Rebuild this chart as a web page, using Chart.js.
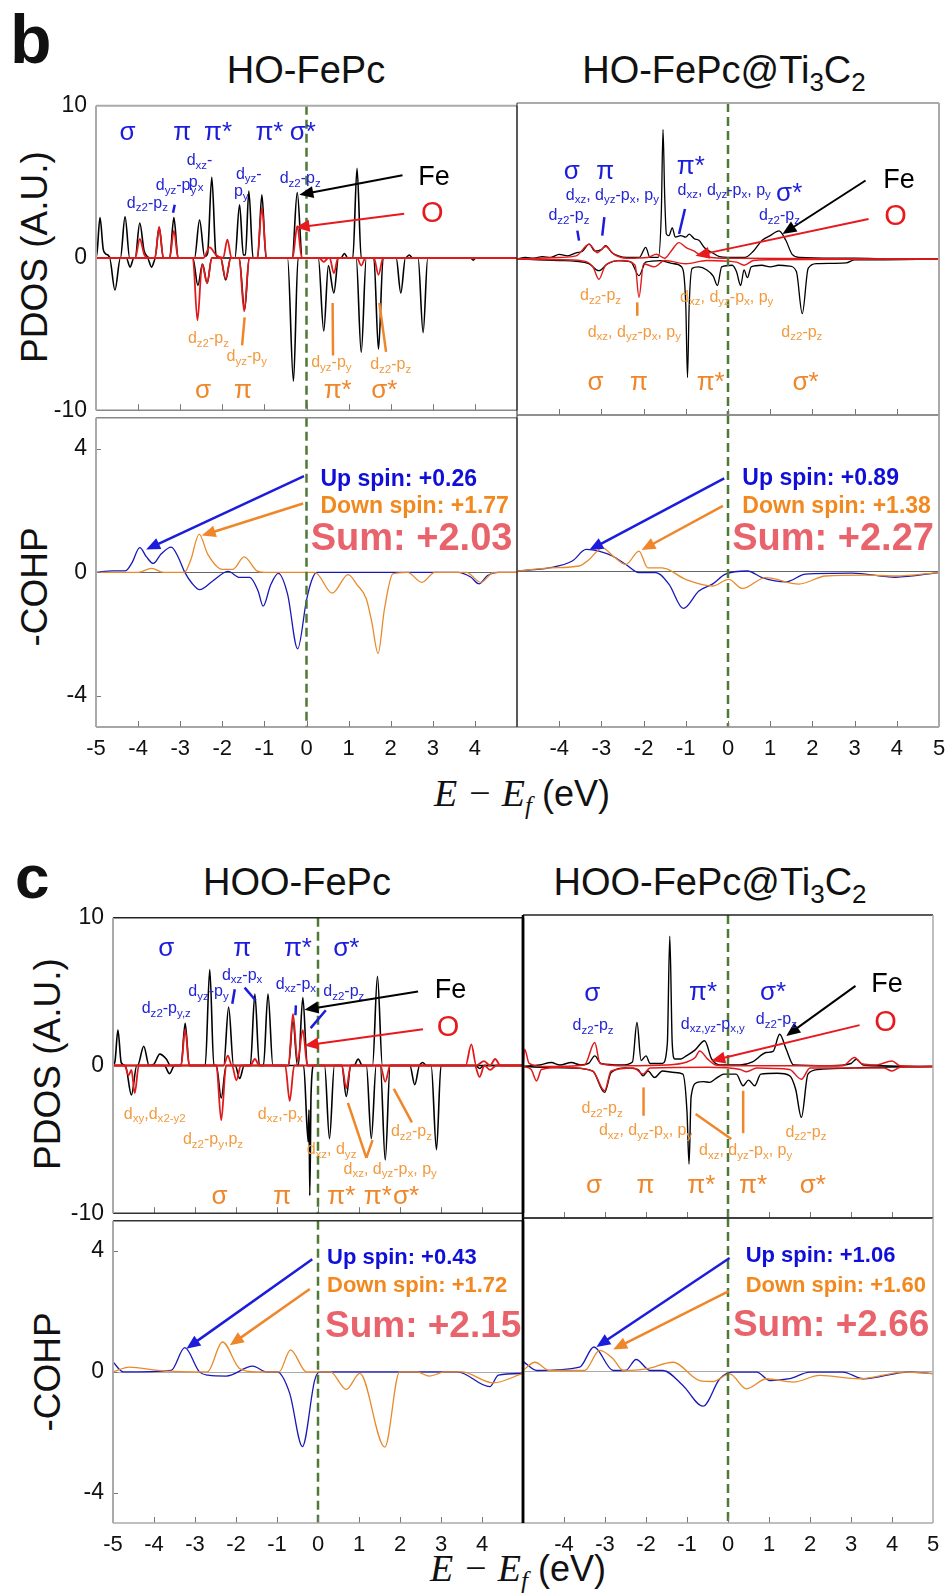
<!DOCTYPE html>
<html>
<head>
<meta charset="utf-8">
<script src="https://cdn.jsdelivr.net/npm/chart.js@4.4.0/dist/chart.umd.min.js"></script>
<style>
  body { margin: 0; background: #fff; width: 949px; height: 1593px; position: relative; overflow: hidden;
         font-family: "Liberation Sans", Arial, sans-serif; }
  .box { position: absolute; }
  .t { position: absolute; white-space: nowrap; line-height: 1; color: #111; }
  .rot { transform: translate(-50%, -50%) rotate(-90deg); }
  .mid { transform: translateX(-50%); }
  .ser { font-family: "Liberation Serif", "DejaVu Serif", serif; font-style: italic; }
  .lo { position: relative; top: 8px; font-size: 26px; }
</style>
</head>
<body>

<div class="t" style="left:10px;top:5px;font-size:68px;font-weight:bold">b</div>
<div class="t mid" style="left:306px;top:51px;font-size:38px">HO-FePc</div>
<div class="t mid" style="left:724px;top:51px;font-size:38px">HO-FePc@Ti<span class="lo">3</span>C<span class="lo">2</span></div>
<div class="t rot" style="left:34px;top:257px;font-size:37px">PDOS (A.U.)</div>
<div class="t rot" style="left:34px;top:587px;font-size:37px">-COHP</div>
<div class="t mid" style="left:522px;top:774px;font-size:36px"><span class="ser" style="font-size:38px">E − E<span style="position:relative;top:8px;font-size:25px">f</span></span> (eV)</div>

<div class="t" style="left:15px;top:846px;font-size:62px;font-weight:bold">c</div>
<div class="t mid" style="left:297px;top:863px;font-size:38px">HOO-FePc</div>
<div class="t mid" style="left:710px;top:863px;font-size:38px">HOO-FePc@Ti<span class="lo">3</span>C<span class="lo">2</span></div>
<div class="t rot" style="left:47px;top:1064px;font-size:37px">PDOS (A.U.)</div>
<div class="t rot" style="left:47px;top:1372px;font-size:37px">-COHP</div>
<div class="t mid" style="left:518px;top:1549px;font-size:36px"><span class="ser" style="font-size:38px">E − E<span style="position:relative;top:8px;font-size:25px">f</span></span> (eV)</div>

<script>
// ---- tick labels ----
const xTicksLeft = [-5, -4, -3, -2, -1, 0, 1, 2, 3, 4];
const xTicksRight = [-4, -3, -2, -1, 0, 1, 2, 3, 4, 5];
const yTicksPdos = [-10, 0, 10];
const yTicksCohp = [-4, 0, 4];

// ---- panel b, HO-FePc PDOS: [energy, value] ----
const bL_FeUp = [[-5,0],[-4.97,0.5],[-4.905,2.65],[-4.83,0.6],[-4.78,0.3],[-4.72,0.2],[-4.65,0],
  [-4.42,0],[-4.31,2.7],[-4.2,0],[-4.07,0],[-3.96,2.3],[-3.86,0.5],[-3.78,0.1],[-3.7,0],
  [-3.6,0],[-3.5,2.0],[-3.4,0],[-3.25,0],[-3.15,2.65],[-3.05,0],
  [-2.66,0],[-2.54,2.5],[-2.42,0.1],[-2.35,0.3],[-2.25,5.3],[-2.15,0.2],[-2.05,0],
  [-1.7,0],[-1.59,3.5],[-1.5,0.2],[-1.45,0.2],[-1.37,4.4],[-1.27,0],
  [-1.16,0],[-1.06,4.15],[-0.96,0],[-0.34,0],[-0.22,4.3],[-0.1,0],
  [0.82,0],[0.9,0.3],[0.98,0],[1.1,0],[1.2,5.9],[1.3,0],[2.35,0],[2.44,0.2],[2.52,0],[5,0]];
const bL_FeDn = [[-5,0],[-4.68,0],[-4.55,-2.1],[-4.42,0],[-4.28,0],[-4.19,-0.6],[-4.1,0],
  [-3.78,0],[-3.68,-0.6],[-3.58,0],[-2.7,0],[-2.58,-1.8],[-2.47,-0.4],[-2.36,-1.65],[-2.25,0],
  [-2.04,0],[-1.92,-1.45],[-1.8,0],[-1.6,0],[-1.47,-3.4],[-1.36,0],
  [-0.45,0],[-0.31,-8.1],[-0.2,0],[0.28,0],[0.41,-4.8],[0.52,-0.5],[0.65,-2.3],[0.76,0],
  [1.18,0],[1.3,-6.2],[1.42,0],[1.6,0],[1.71,-6.0],[1.82,0],
  [2.13,0],[2.24,-2.3],[2.35,0],[2.65,0],[2.77,-4.9],[2.88,0],[3.9,0],[3.96,-0.15],[4.02,0],[5,0]];
const bL_OUp = [[-5,0],[-4.07,0],[-3.96,1.25],[-3.85,0.2],[-3.75,0],[-3.6,0],[-3.5,2.05],[-3.4,0],
  [-3.25,0],[-3.15,1.8],[-3.05,0],[-2.45,0],[-2.3,0.7],[-2.15,0.2],[-1.98,0],[-1.88,1.2],[-1.78,0],
  [-1.17,0],[-1.06,3.3],[-0.95,0],[-0.33,0],[-0.22,2.1],[-0.11,0],[5,0]];
const bL_ODn = [[-5,0],[-2.7,0],[-2.59,-4.1],[-2.48,-0.4],[-2.36,-1.65],[-2.25,0],
  [-2.04,0],[-1.92,-1.35],[-1.8,0],[-1.6,0],[-1.48,-3.5],[-1.36,0],
  [0.3,0],[0.41,-0.25],[0.52,0],[0.55,0],[0.65,-1.0],[0.75,0],
  [1.2,0],[1.3,-0.5],[1.4,0],[1.6,0],[1.71,-1.1],[1.82,0],[5,0]];

// ---- panel b, HO-FePc@Ti3C2 PDOS ----
const bR_FeUp = [[-5,0],[-4.8,0.1],[-4.6,0.05],[-4.4,0.15],[-4.2,0.1],[-4.0,0.3],[-3.8,0.2],[-3.6,0.4],
  [-3.45,0.5],[-3.29,0.95],[-3.15,0.5],[-3.0,0.6],[-2.9,0.85],[-2.75,0.4],[-2.6,0.2],[-2.4,0.1],
  [-2.1,0.1],[-1.95,0.75],[-1.85,0.1],[-1.65,0.1],[-1.58,3],[-1.54,8.3],[-1.5,4],[-1.46,1.6],
  [-1.4,1.5],[-1.32,2.0],[-1.25,1.4],[-1.12,1.5],[-1.0,1.4],[-0.92,1.6],[-0.8,1.3],[-0.69,1.2],
  [-0.55,0.7],[-0.37,0.4],[-0.2,0.15],[0,0.1],[0.4,0.1],[0.6,0.5],[0.81,1.2],[1.0,1.5],
  [1.21,1.8],[1.37,1.2],[1.52,0.3],[1.7,0.1],[2.5,0.05],[3.0,0.05],[4.0,0],[5,0]];
const bR_FeDn = [[-5,0],[-4.5,-0.05],[-4,-0.1],[-3.6,-0.15],[-3.3,-0.3],[-3.06,-0.75],[-2.85,-0.3],
  [-2.6,-0.1],[-2.3,-0.2],[-2.11,-1.07],[-1.95,-0.2],[-1.6,-0.1],[-1.3,-0.3],[-1.1,-0.5],[-1.0,-3],
  [-0.96,-7.6],[-0.92,-3],[-0.85,-0.6],[-0.7,-0.5],[-0.5,-0.7],[-0.35,-1.1],[-0.25,-1.7],[-0.15,-0.5],
  [0.1,-0.4],[0.2,-0.8],[0.3,-1.7],[0.38,-0.7],[0.46,-1.2],[0.55,-0.5],[0.8,-0.4],[1.0,-0.5],
  [1.2,-0.4],[1.45,-0.45],[1.62,-0.8],[1.76,-3.5],[1.9,-0.6],[2.1,-0.3],[2.8,-0.25],[3.0,-0.05],[3.5,-0.05],[5,0]];
const bR_OUp = [[-5,0],[-4.5,0.05],[-4,0.1],[-3.6,0.2],[-3.29,0.95],[-3.1,0.4],[-2.9,0.8],[-2.7,0.3],
  [-2.4,0.05],[-1.9,0.1],[-1.7,0.3],[-1.5,0.05],[-1.35,0.5],[-1.16,1.05],[-1.0,0.75],[-0.8,0.5],
  [-0.69,0.3],[-0.4,0.1],[0,0.05],[5,0]];
const bR_ODn = [[-5,0],[-4,-0.05],[-3.5,-0.1],[-3.2,-0.5],[-3.06,-1.3],[-2.9,-0.4],[-2.5,-0.1],[-2.2,-0.4],
  [-2.11,-2.45],[-2.0,-0.3],[-1.75,-0.5],[-1.5,-0.1],[-1.0,-0.3],[-0.5,-0.1],[0.2,-0.2],[0.38,-0.4],
  [0.6,-0.1],[1.0,-0.05],[5,0]];

// ---- panel b, -COHP ----
const bL_Up = [[-5,0],[-4.6,0.05],[-4.3,0.05],[-4.15,0.3],[-3.96,0.8],[-3.8,0.5],[-3.64,0.29],[-3.45,0.6],
  [-3.21,0.82],[-3.05,0.5],[-2.89,0],[-2.72,-0.35],[-2.54,-0.56],[-2.22,-0.27],[-1.86,0.03],[-1.59,-0.16],
  [-1.35,-0.16],[-1.15,-0.6],[-1.03,-1.09],[-0.85,-0.4],[-0.67,-0.03],[-0.45,-0.7],[-0.21,-2.47],
  [0,-0.9],[0.12,-0.27],[0.24,0],[3.6,0],[3.9,-0.15],[4.1,-0.37],[4.3,-0.1],[4.55,0],[5,0]];
const bL_Dn = [[-5,0],[-4.0,0],[-3.68,0.13],[-3.4,0],[-2.9,0],[-2.75,0.4],[-2.55,1.24],[-2.35,0.6],
  [-2.0,0.1],[-1.75,0.1],[-1.48,0.5],[-1.18,0.05],[-1.0,0],[0.2,0],[0.61,-0.67],[0.99,-0.07],
  [1.2,-0.4],[1.42,-0.85],[1.55,-1.6],[1.70,-2.62],[1.85,-1.2],[2.05,-0.05],[2.4,0],[2.74,-0.32],
  [3.05,0],[3.8,0],[4.14,-0.32],[4.45,0],[5,0]];
const bR_Up = [[-5,0],[-4.24,0.1],[-3.69,0.32],[-3.36,0.69],[-3.06,0.64],[-2.74,0.48],[-2.42,0.21],
  [-2.11,-0.05],[-1.71,-0.05],[-1.40,-0.42],[-1.06,-1.2],[-0.69,-0.64],[-0.37,-0.42],[-0.06,-0.1],
  [0.46,0],[0.81,-0.21],[1.37,-0.35],[1.84,-0.1],[2.95,-0.07],[3.97,-0.2],[5,-0.05]];
const bR_Dn = [[-5,0],[-4.2,0.1],[-3.53,0.16],[-3.29,0.37],[-2.98,0.74],[-2.7,0.45],[-2.42,0.21],
  [-2.11,0.64],[-1.90,0.1],[-1.56,0.1],[-1.0,-0.27],[-0.37,-0.48],[0.02,-0.27],[0.34,-0.56],
  [0.89,-0.21],[1.68,-0.42],[2.31,-0.16],[3.26,-0.13],[3.97,-0.16],[5,-0.05]];

// ---- panel c, HOO-FePc PDOS ----
const cL_FeUp = [[-5,0],[-4.95,0.3],[-4.88,2.4],[-4.8,0.2],[-4.7,0],[-4.4,0],[-4.25,1.3],[-4.12,0],
  [-4.0,0.1],[-3.86,0.77],[-3.7,0.44],[-3.6,0],[-3.34,0],[-3.24,2.86],[-3.14,0],
  [-2.75,0],[-2.64,6.5],[-2.54,0],[-2.3,0],[-2.18,3.96],[-2.06,0],
  [-1.65,0],[-1.54,4.84],[-1.43,0],[-1.33,0],[-1.22,4.84],[-1.1,0],
  [-0.72,0],[-0.61,3.0],[-0.5,0],[-0.48,0],[-0.37,4.6],[-0.26,0],
  [0.88,0],[0.98,0.44],[1.08,0],[1.33,0],[1.45,6.04],[1.57,0],[2.45,0],[2.55,0.2],[2.65,0],[5,0]];
const cL_FeDn = [[-5,0],[-4.7,0],[-4.55,-2.0],[-4.42,0],[-3.75,0],[-3.62,-0.55],[-3.5,0],
  [-2.48,0],[-2.36,-2.2],[-2.24,0],[-2.02,0],[-1.91,-0.88],[-1.8,0],
  [-0.35,0],[-0.24,-5.16],[-0.22,-3],[-0.2,-8.8],[-0.17,-2],[-0.1,0],
  [0.16,0],[0.28,-4.95],[0.4,0],[0.58,0],[0.69,-2.1],[0.8,0],
  [1.18,0],[1.30,-4.95],[1.42,0],[1.52,0],[1.64,-6.4],[1.76,0],
  [2.24,0],[2.36,-1.3],[2.48,0],[2.76,0],[2.89,-5.7],[3.0,0],[3.85,0],[3.94,-0.2],[4.05,0],[5,0]];
const cL_OUp = [[-5,0],[-3.34,0],[-3.24,2.42],[-3.14,0],[-2.3,0],[-2.2,0.66],[-2.1,0],[-1.65,0],
  [-1.54,0.44],[-1.43,0],[-0.72,0],[-0.61,3.5],[-0.5,0.3],[-0.37,2.4],[-0.26,0],[3.6,0],
  [3.74,1.43],[3.86,0],[4.05,0.3],[4.2,0],[4.32,0.44],[4.45,0],[5,0]];
const cL_ODn = [[-5,0],[-4.72,0],[-4.62,-0.66],[-4.55,-0.3],[-4.47,-1.87],[-4.37,0],[-2.48,0],
  [-2.36,-3.7],[-2.24,0],[-2.1,0],[-1.99,-1.0],[-1.88,0],[-0.8,0],[-0.69,-2.4],[-0.58,0],
  [0.58,0],[0.69,-1.54],[0.8,0],[1.52,0],[1.64,-1.1],[1.76,0],[3.82,0],[3.94,-0.77],[4.06,0],
  [4.2,-0.3],[4.35,0],[5,0]];

// ---- panel c, HOO-FePc@Ti3C2 PDOS ----
const cR_FeUp = [[-5,0],[-4.6,0.1],[-4.31,0.26],[-4.1,0.1],[-3.82,0.26],[-3.6,0.1],[-3.4,0.2],
  [-3.25,0.7],[-3.1,0.2],[-2.6,0.1],[-2.33,0.3],[-2.22,2.9],[-2.12,0.4],[-2.0,0.7],[-1.9,0.2],
  [-1.6,0.2],[-1.48,1.5],[-1.42,8.6],[-1.36,1.5],[-1.3,0.5],[-1.15,0.5],[-1.02,0.7],[-0.8,1.1],
  [-0.57,1.7],[-0.4,0.5],[-0.2,0.1],[0.3,0.1],[0.6,0.3],[0.93,0.92],[1.1,1.0],[1.26,2.13],
  [1.42,1.14],[1.6,0.1],[2.5,0.05],[3.0,0.2],[3.13,0.48],[3.3,0.1],[5,0]];
const cR_FeDn = [[-5,0],[-4.5,-0.05],[-3.8,-0.1],[-3.3,-0.3],[-3.01,-1.71],[-2.85,-0.4],[-2.5,-0.1],
  [-2.2,-0.2],[-2.07,-0.62],[-1.95,-0.3],[-1.79,-0.73],[-1.6,-0.3],[-1.3,-0.4],[-1.1,-0.5],
  [-1.0,-3],[-0.95,-6.44],[-0.9,-2],[-0.75,-1.05],[-0.6,-1.0],[-0.45,-1.05],[-0.3,-0.8],
  [-0.1,-0.5],[0.2,-0.5],[0.37,-1.27],[0.5,-0.9],[0.65,-1.27],[0.8,-0.5],[1.2,-0.45],[1.5,-0.6],
  [1.65,-1.5],[1.79,-3.36],[1.95,-0.5],[2.2,-0.2],[3.0,-0.1],[3.5,-0.05],[5,0]];
const cR_OUp = [[-5,0],[-4.96,1.14],[-4.85,0.2],[-4.5,0],[-3.5,0.1],[-3.25,1.58],[-3.12,0.2],
  [-2.5,0.05],[-1.5,0.1],[-1.0,0.3],[-0.8,0.6],[-0.69,1.03],[-0.5,0.5],[-0.3,0.1],[0,0.05],
  [2.8,0.05],[3.09,0.6],[3.25,0.2],[3.6,0.1],[4.0,0.37],[4.2,0.05],[5,0]];
const cR_ODn = [[-5,0],[-4.8,-0.2],[-4.67,-0.95],[-4.55,-0.2],[-4.0,-0.05],[-3.3,-0.3],[-3.01,-1.6],
  [-2.85,-0.3],[-2.3,-0.1],[-2.07,-0.5],[-1.9,-0.1],[-0.5,-0.05],[0.3,-0.2],[0.45,-0.35],
  [0.7,-0.1],[1.5,-0.2],[1.79,-0.84],[2.0,-0.1],[3.8,-0.1],[4.0,-0.3],[4.2,-0.05],[5,0]];

// ---- panel c, -COHP ----
const cL_Up = [[-5,0.33],[-4.75,0],[-3.58,0.05],[-3.25,0.8],[-2.89,0],[-2.68,-0.11],[-2.24,-0.14],
  [-1.59,0.19],[-1.26,0],[-1.0,0],[-0.69,-0.71],[-0.38,-2.47],[-0.08,-0.27],[0.04,0],[3.4,0],
  [4.19,-0.49],[4.4,-0.11],[5,-0.05]];
const cL_Dn = [[-5,0],[-4.6,0.16],[-3.9,0.05],[-2.7,0],[-2.33,0.99],[-1.91,0.11],[-1.5,0],[-0.95,0],
  [-0.67,0.73],[-0.28,0],[0.3,0],[0.69,-0.58],[1.02,-0.05],[1.63,-2.49],[1.99,0],[2.4,0],
  [2.72,-0.14],[3.1,0],[3.5,0],[4.27,-0.36],[5,-0.05]];
const cR_Up = [[-5,0.3],[-4.66,0],[-3.62,0.11],[-3.27,0.77],[-2.8,0],[-2.5,0],[-2.24,0.36],[-1.9,0],
  [-1.59,0],[-1.1,-0.49],[-0.61,-1.17],[-0.2,-0.27],[0.1,-0.05],[0.7,-0.05],[1.02,-0.33],
  [1.5,-0.27],[2.0,-0.05],[2.8,-0.05],[3.3,-0.27],[4.4,-0.05],[5,-0.1]];
const cR_Dn = [[-5,0],[-4.71,0.27],[-4.35,0],[-3.5,0],[-3.13,0.66],[-2.8,0.38],[-2.56,0],[-2.0,0.05],
  [-1.34,0.27],[-0.69,-0.33],[-0.37,-0.36],[0.04,-0.11],[0.45,-0.6],[0.94,-0.27],[1.59,-0.38],
  [2.24,-0.16],[3.21,-0.27],[4.3,-0.05],[5,-0.1]];

// ---- annotations: [x, y, text, style] and marks: [x1, y1, x2, y2, colour, width, arrowhead] ----
const bL_notes = [[-4.25,8.2,'σ','gB'],[-2.95,8.2,'π','gB'],[-2.1,8.2,'π*','gB'],[-0.88,8.2,'π*','gB'],[-0.09,8.2,'σ*','gB'],
  [-2.54,6.4,'d_{xz}-','sB'],[-3.1,4.75,'d_{yz}-p_{y}','sB'],[-2.62,4.95,'p_{x}','sB'],[-3.78,3.6,'d_{z2}-p_{z}','sB'],
  [-1.37,5.5,'d_{yz}-','sB'],[-1.55,4.35,'p_{y}','sB'],[-0.15,5.2,'d_{z2}-p_{z}','sB'],
  [3.03,5.3,'Fe','fe'],[2.99,2.86,'O','ox'],
  [-2.33,-5.3,'d_{z2}-p_{z}','sO'],[-1.42,-6.5,'d_{yz}-p_{y}','sO'],[0.59,-6.9,'d_{yz}-p_{y}','sO'],[2.0,-7.0,'d_{z2}-p_{z}','sO'],
  [-2.46,-8.75,'σ','gO'],[-1.51,-8.75,'π','gO'],[0.74,-8.75,'π*','gO'],[1.85,-8.75,'σ*','gO']];
const bL_marks = [[2.28,5.44,-0.17,4.15,'k',2,1],[2.32,2.9,-0.26,2.0,'r',2,1],[-3.13,3.5,-3.17,2.97,'b',2.5,0],
  [-1.47,-3.9,-1.53,-5.74,'o',2.5,0],[0.62,-2.95,0.63,-6.4,'o',2.5,0],[1.73,-2.95,1.89,-6.17,'o',2.5,0]];

const bR_notes = [[-3.7,5.57,'σ','gB'],[-2.91,5.57,'π','gB'],[-0.88,5.9,'π*','gB'],[1.45,4.2,'σ*','gB'],
  [-2.74,4.07,'d_{xz}, d_{yz}-p_{x}, p_{y}','sB'],[-3.77,2.78,'d_{z2}-p_{z}','sB'],
  [-0.09,4.39,'d_{xz}, d_{yz}-p_{x}, p_{y}','sB'],[1.22,2.78,'d_{z2}-p_{z}','sB'],
  [4.05,5.03,'Fe','fe'],[3.97,2.68,'O','ox'],
  [-3.02,-2.36,'d_{z2}-p_{z}','sO'],[-2.22,-4.71,'d_{xz}, d_{yz}-p_{x}, p_{y}','sO'],
  [-0.03,-2.46,'d_{xz}, d_{yz}-p_{x}, p_{y}','sO'],[1.75,-4.71,'d_{z2}-p_{z}','sO'],
  [-3.14,-7.92,'σ','gO'],[-2.11,-7.92,'π','gO'],[-0.41,-7.92,'π*','gO'],[1.84,-7.92,'σ*','gO']];
const bR_marks = [[3.26,5.03,1.29,1.6,'k',2,1],[3.33,2.57,-0.77,0.21,'r',2,1],
  [-3.57,1.82,-3.53,1.18,'b',2.5,0],[-2.93,2.68,-2.98,1.5,'b',2.5,0],[-1.02,3.21,-1.16,1.6,'b',2.5,0],
  [-2.15,-2.78,-2.15,-3.64,'o',2.5,0]];

const bLc_notes = [[0.33,3.0,'Up spin: +0.26','up'],[0.33,2.14,'Down spin: +1.77','dn'],[0.1,1.06,'Sum: +2.03','sum']];
const bLc_marks = [[-0.06,3.11,-3.81,0.74,'b',2.5,1],[-0.08,2.23,-2.49,1.19,'o',2.5,1]];
const bRc_notes = [[0.34,2.95,'Up spin: +0.89','up'],[0.34,2.07,'Down spin: +1.38','dn'],[0.1,1.0,'Sum: +2.27','sum']];
const bRc_marks = [[-0.09,2.97,-3.29,0.67,'b',2.5,1],[-0.12,2.09,-2.05,0.67,'o',2.5,1]];

const cL_notes = [[-3.7,7.9,'σ','gB'],[-1.85,7.9,'π','gB'],[-0.49,7.9,'π*','gB'],[0.69,7.9,'σ*','gB'],
  [-1.85,6.1,'d_{xz}-p_{x}','sB'],[-2.67,5.0,'d_{yz}-p_{y}','sB'],[-3.7,3.85,'d_{z2}-p_{y,z}','sB'],
  [-0.54,5.49,'d_{xz}-p_{x}','sB'],[0.63,5.0,'d_{z2}-p_{z}','sB'],
  [3.23,5.1,'Fe','fe'],[3.17,2.53,'O','ox'],
  [-3.98,-3.3,'d_{xy},d_{x2-y2}','sO'],[-2.56,-5.05,'d_{z2}-p_{y},p_{z}','sO'],[-0.92,-3.3,'d_{xz},-p_{x}','sO'],
  [0.33,-5.71,'d_{xz}, d_{yz}','sO'],[1.76,-7.03,'d_{xz}, d_{yz}-p_{x}, p_{y}','sO'],[2.28,-4.5,'d_{z2}-p_{z}','sO'],
  [-2.4,-8.9,'σ','gO'],[-0.87,-8.9,'π','gO'],[0.57,-8.9,'π*','gO'],[1.46,-8.9,'π*','gO'],[2.15,-8.9,'σ*','gO']];
const cL_marks = [[2.44,5.01,-0.33,3.78,'k',2,1],[2.56,2.46,-0.33,1.36,'r',2,1],
  [-2.03,5.16,-2.09,4.18,'b',2.5,0],[-1.79,5.27,-1.52,4.4,'b',2.5,0],[-0.54,4.07,-0.55,3.4,'b',2.5,0],
  [0.19,3.74,-0.18,2.53,'b',2.5,0],[0.73,-2.53,1.18,-6.26,'o',2.5,0],[1.18,-6.26,1.33,-5.05,'o',2.5,0],
  [1.85,-1.58,2.29,-3.85,'o',2.5,0]];

const cR_notes = [[-3.31,4.77,'σ','gB'],[-0.61,4.88,'π*','gB'],[1.1,4.88,'σ*','gB'],
  [-3.29,2.68,'d_{z2}-p_{z}','sB'],[-0.37,2.79,'d_{xz,yz}-p_{x,y}','sB'],[1.18,3.08,'d_{z2}-p_{z}','sB'],
  [3.88,5.43,'Fe','fe'],[3.84,2.9,'O','ox'],
  [-3.07,-2.81,'d_{z2}-p_{z}','sO'],[-2.01,-4.24,'d_{xz}, d_{yz}-p_{x}, p_{y}','sO'],
  [0.43,-5.56,'d_{xz}, d_{yz}-p_{x}, p_{y}','sO'],[1.9,-4.35,'d_{z2}-p_{z}','sO'],
  [-3.27,-7.87,'σ','gO'],[-2.01,-7.87,'π','gO'],[-0.65,-7.87,'π*','gO'],[0.61,-7.87,'π*','gO'],[2.07,-7.87,'σ*','gO']];
const cR_marks = [[3.11,5.32,1.42,2.02,'k',2,1],[3.21,2.73,-0.41,0.37,'r',2,1],
  [-2.06,-1.38,-2.06,-3.25,'o',2.5,0],[-0.79,-3.14,0.08,-4.79,'o',2.5,0],[0.37,-1.6,0.37,-4.4,'o',2.5,0]];

const cLc_notes = [[0.22,3.78,'Up spin: +0.43','up2'],[0.22,2.85,'Down spin: +1.72','dn2'],[0.17,1.48,'Sum: +2.15','sum2']];
const cLc_marks = [[-0.14,3.73,-3.21,0.77,'b',2.5,1],[-0.2,2.74,-2.15,0.88,'o',2.5,1]];
const cRc_notes = [[0.43,3.76,'Up spin: +1.06','up2'],[0.43,2.77,'Down spin: +1.60','dn2'],[0.12,1.48,'Sum: +2.66','sum2']];
const cRc_marks = [[0.04,3.69,-3.21,0.77,'b',2.5,1],[0.02,2.6,-2.8,0.69,'o',2.5,1]];

// ---- drawing helpers ----
const FAM = '"Liberation Sans", Arial, sans-serif';
const INK = {k: '#000', r: '#e8191e', b: '#1c1cdc', o: '#f0862a'};
const STY = {
  gB: {size: 26, color: '#1c1cdc'}, gO: {size: 26, color: '#f0862a'},
  sB: {size: 16, color: '#2424d4'}, sO: {size: 16, color: '#f39a3e'},
  fe: {size: 27, color: '#000'}, ox: {size: 29, color: '#e8191e'},
  up: {size: 23, color: '#0f0fd8', bold: true, left: true},
  dn: {size: 23, color: '#f2891f', bold: true, left: true},
  sum: {size: 38, color: '#e8636b', bold: true, left: true},
  up2: {size: 22, color: '#0f0fd8', bold: true, left: true},
  dn2: {size: 22, color: '#f2891f', bold: true, left: true},
  sum2: {size: 37, color: '#e8636b', bold: true, left: true}
};

function parseRich(s) {
  const out = [], re = /_\{([^}]*)\}/g;
  let last = 0, m;
  while ((m = re.exec(s))) {
    if (m.index > last) out.push({t: s.slice(last, m.index)});
    out.push({t: m[1], sub: true});
    last = re.lastIndex;
  }
  if (last < s.length) out.push({t: s.slice(last)});
  return out;
}

function drawRich(ctx, px, py, text, st) {
  const segs = parseRich(text);
  const font = sz => (st.bold ? 'bold ' : '') + sz + 'px ' + FAM;
  let w = 0;
  segs.forEach(s => { ctx.font = font(s.sub ? st.size * 0.72 : st.size); s.w = ctx.measureText(s.t).width; w += s.w; });
  let cx = st.left ? px : px - w / 2;
  ctx.textBaseline = 'middle';
  ctx.textAlign = 'left';
  ctx.fillStyle = st.color;
  segs.forEach(s => {
    ctx.font = font(s.sub ? st.size * 0.72 : st.size);
    ctx.fillText(s.t, cx, py + (s.sub ? st.size * 0.3 : 0));
    cx += s.w;
  });
}

function drawMark(ctx, x1, y1, x2, y2, color, w, head) {
  const a = Math.atan2(y2 - y1, x2 - x1), L = 14, H = 6;
  ctx.strokeStyle = color; ctx.fillStyle = color; ctx.lineWidth = w;
  ctx.beginPath();
  ctx.moveTo(x1, y1);
  ctx.lineTo(head ? x2 - Math.cos(a) * L * 0.8 : x2, head ? y2 - Math.sin(a) * L * 0.8 : y2);
  ctx.stroke();
  if (head) {
    ctx.beginPath();
    ctx.moveTo(x2, y2);
    ctx.lineTo(x2 - Math.cos(a) * L + Math.sin(a) * H, y2 - Math.sin(a) * L - Math.cos(a) * H);
    ctx.lineTo(x2 - Math.cos(a) * L - Math.sin(a) * H, y2 - Math.sin(a) * L + Math.cos(a) * H);
    ctx.closePath();
    ctx.fill();
  }
}

function line(ctx, x1, y1, x2, y2) { ctx.beginPath(); ctx.moveTo(x1, y1); ctx.lineTo(x2, y2); ctx.stroke(); }

function makeDeco(cfg) {
  return {
    id: 'deco',
    beforeDatasetsDraw(chart) {
      const {ctx, chartArea: a, scales: {y}} = chart;
      if (!cfg.zero) return;
      ctx.save();
      ctx.strokeStyle = cfg.zero; ctx.lineWidth = 1.2;
      const py = Math.round(y.getPixelForValue(0)) + 0.5;
      line(ctx, a.left, py, a.right, py);
      ctx.restore();
    },
    afterDatasetsDraw(chart) {
      const {ctx, chartArea: a, scales: {x, y}} = chart;
      ctx.save();
      const fx = x.getPixelForValue(0);
      ctx.strokeStyle = '#4e7a35'; ctx.lineWidth = 2.5; ctx.setLineDash([9, 5]);
      line(ctx, fx, a.top, fx, a.bottom);
      ctx.setLineDash([]);
      ctx.strokeStyle = '#777'; ctx.lineWidth = 1;
      cfg.xTicks.filter(v => v > -5 && v < 5).forEach(v => {
        const p = Math.round(x.getPixelForValue(v)) + 0.5;
        line(ctx, p, a.bottom, p, a.bottom - 6);
      });
      if (cfg.yMarks) cfg.yMarks.forEach(v => {
        const p = Math.round(y.getPixelForValue(v)) + 0.5;
        line(ctx, a.left, p, a.left + 5, p);
      });
      const e = cfg.edges;
      ctx.strokeStyle = e.top[0]; ctx.lineWidth = e.top[1]; line(ctx, a.left, a.top, a.right, a.top);
      ctx.strokeStyle = e.bottom[0]; ctx.lineWidth = e.bottom[1]; line(ctx, a.left, a.bottom, a.right, a.bottom);
      ctx.strokeStyle = e.left[0]; ctx.lineWidth = e.left[1]; line(ctx, a.left, a.top, a.left, a.bottom);
      ctx.strokeStyle = e.right[0]; ctx.lineWidth = e.right[1]; line(ctx, a.right, a.top, a.right, a.bottom);
      ctx.restore();
    },
    afterDraw(chart) {
      const {ctx, scales: {x, y}} = chart;
      ctx.save();
      ctx.lineCap = 'butt';
      cfg.marks.forEach(m => drawMark(ctx, x.getPixelForValue(m[0]), y.getPixelForValue(m[1]),
        x.getPixelForValue(m[2]), y.getPixelForValue(m[3]), INK[m[4]], m[5], m[6]));
      cfg.notes.forEach(n => drawRich(ctx, x.getPixelForValue(n[0]), y.getPixelForValue(n[1]), n[2], STY[n[3]]));
      ctx.restore();
    }
  };
}

function plot(r, side, kind, series, cfg) {
  const padL = side === 'left' ? 90 : 20, padR = 20, padT = 20, padB = kind === 'cohp' ? 50 : 18;
  const W = r.w + padL + padR, H = r.h + padT + padB;
  const box = document.createElement('div');
  box.className = 'box';
  Object.assign(box.style, {left: (r.l - padL) + 'px', top: (r.t - padT) + 'px', width: W + 'px', height: H + 'px'});
  const cv = document.createElement('canvas');
  cv.width = W; cv.height = H;
  cv.style.width = W + 'px'; cv.style.height = H + 'px';
  box.appendChild(cv);
  document.body.appendChild(box);

  const xTicks = side === 'left' ? xTicksLeft : xTicksRight;
  const yTicks = kind === 'cohp' ? yTicksCohp : yTicksPdos;
  const lim = kind === 'cohp' ? 5 : 10;
  cfg.xTicks = xTicks;
  if (kind === 'cohp' && side === 'left') cfg.yMarks = yTicksCohp;

  new Chart(cv, {
    type: 'line',
    data: {
      datasets: series.map(s => ({
        data: s.pts.map(p => ({x: p[0], y: p[1]})),
        borderColor: s.color,
        borderWidth: s.width,
        pointRadius: 0,
        fill: false,
        cubicInterpolationMode: 'monotone'
      }))
    },
    options: {
      responsive: false,
      animation: false,
      devicePixelRatio: 1,
      events: [],
      layout: {padding: {left: side === 'left' ? 0 : padL, right: padR, top: padT, bottom: kind === 'cohp' ? 0 : padB}},
      plugins: {legend: {display: false}, tooltip: {enabled: false}},
      scales: {
        x: {
          type: 'linear', min: -5, max: 5,
          display: kind === 'cohp',
          grid: {display: false, drawTicks: false},
          border: {display: false},
          afterBuildTicks: s => { s.ticks = xTicks.map(v => ({value: v})); },
          afterFit: s => { if (kind === 'cohp') s.height = padB; },
          ticks: {padding: 9, autoSkip: false, maxRotation: 0, color: '#111', font: {size: 22, family: FAM}}
        },
        y: {
          type: 'linear', min: -lim, max: lim,
          display: side === 'left',
          grid: {display: false, drawTicks: false},
          border: {display: false},
          afterBuildTicks: s => { s.ticks = yTicks.map(v => ({value: v})); },
          afterFit: s => { if (side === 'left') s.width = padL; },
          ticks: {padding: 9, autoSkip: false, color: '#111', font: {size: 23, family: FAM}}
        }
      }
    },
    plugins: [makeDeco(cfg)]
  });
}

const RED = '#e01a1a', BLK = '#000', BLU = '#1818b8', ORA = '#e88a2a';
const gB = '#aaa', gM = '#888', dv = '#222';

// panel b
plot({l: 96, t: 103, w: 421, h: 312}, 'left', 'pdos',
  [{pts: bL_OUp, color: RED, width: 1.8}, {pts: bL_ODn, color: RED, width: 1.8},
   {pts: bL_FeUp, color: BLK, width: 1.6}, {pts: bL_FeDn, color: BLK, width: 1.6}],
  {notes: bL_notes, marks: bL_marks, edges: {top: [gB, 2], left: [gB, 2], right: [dv, 1], bottom: [gM, 1.5]}});
plot({l: 517, t: 103, w: 422, h: 312}, 'right', 'pdos',
  [{pts: bR_OUp, color: RED, width: 1.4}, {pts: bR_ODn, color: RED, width: 1.4},
   {pts: bR_FeUp, color: BLK, width: 1.3}, {pts: bR_FeDn, color: BLK, width: 1.3}],
  {notes: bR_notes, marks: bR_marks, edges: {top: [gB, 2], left: [dv, 1], right: [gB, 2], bottom: [gM, 1.5]}});
plot({l: 96, t: 415, w: 421, h: 312}, 'left', 'cohp',
  [{pts: bL_Dn, color: ORA, width: 1.3}, {pts: bL_Up, color: BLU, width: 1.3}],
  {zero: '#666', notes: bLc_notes, marks: bLc_marks, edges: {top: [gM, 1.5], left: [gB, 2], right: [dv, 1], bottom: [gM, 1.5]}});
plot({l: 517, t: 415, w: 422, h: 312}, 'right', 'cohp',
  [{pts: bR_Dn, color: ORA, width: 1.3}, {pts: bR_Up, color: BLU, width: 1.3}],
  {zero: '#666', notes: bRc_notes, marks: bRc_marks, edges: {top: [gM, 1.5], left: [dv, 1], right: [gB, 2], bottom: [gM, 1.5]}});

// panel c
plot({l: 113, t: 915, w: 410, h: 303}, 'left', 'pdos',
  [{pts: cL_OUp, color: RED, width: 1.8}, {pts: cL_ODn, color: RED, width: 1.8},
   {pts: cL_FeUp, color: BLK, width: 1.6}, {pts: cL_FeDn, color: BLK, width: 1.6}],
  {notes: cL_notes, marks: cL_marks, edges: {top: [dv, 1.5], left: [gB, 2], right: ['#000', 2.5], bottom: ['#333', 1.5]}});
plot({l: 523, t: 915, w: 410, h: 303}, 'right', 'pdos',
  [{pts: cR_OUp, color: RED, width: 1.5}, {pts: cR_ODn, color: RED, width: 1.5},
   {pts: cR_FeUp, color: BLK, width: 1.4}, {pts: cR_FeDn, color: BLK, width: 1.4}],
  {notes: cR_notes, marks: cR_marks, edges: {top: [dv, 1.5], left: ['#000', 2.5], right: [gB, 1.5], bottom: ['#333', 1.5]}});
plot({l: 113, t: 1218, w: 410, h: 305}, 'left', 'cohp',
  [{pts: cL_Dn, color: ORA, width: 1.3}, {pts: cL_Up, color: BLU, width: 1.3}],
  {zero: '#aaa', notes: cLc_notes, marks: cLc_marks, edges: {top: ['#333', 1.5], left: [gB, 2], right: ['#000', 2.5], bottom: [gB, 1.5]}});
plot({l: 523, t: 1218, w: 410, h: 305}, 'right', 'cohp',
  [{pts: cR_Dn, color: ORA, width: 1.3}, {pts: cR_Up, color: BLU, width: 1.3}],
  {zero: '#aaa', notes: cRc_notes, marks: cRc_marks, edges: {top: ['#333', 1.5], left: ['#000', 2.5], right: [gB, 1.5], bottom: [gB, 1.5]}});
</script>
</body>
</html>
